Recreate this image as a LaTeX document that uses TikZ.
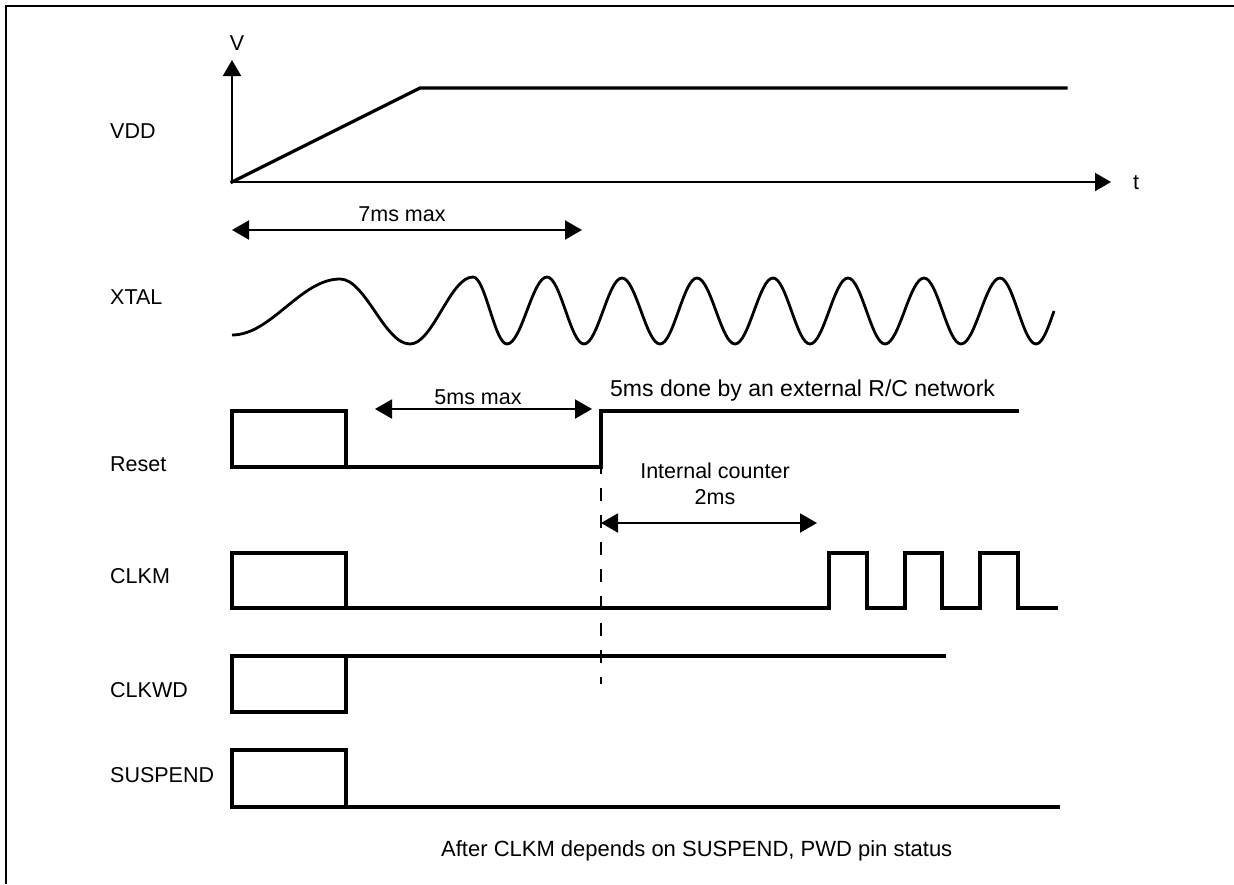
\documentclass[tikz,border=0pt]{standalone}
\usepackage{fontspec}
\setmainfont{Liberation Sans}
\usetikzlibrary{arrows.meta}
\begin{document}
\begin{tikzpicture}[x=1pt,y=-1pt,
  sig/.style={line width=3.2pt, line join=miter, line cap=rect},
  axis/.style={line width=2pt, -{Triangle[length=16pt,width=18pt]}},
  dim/.style={line width=2pt, {Triangle[length=17pt,width=19pt]}-{Triangle[length=17pt,width=19pt]}},
  lbl/.style={font=\fontsize{21.5}{25}\selectfont, inner sep=0pt},
  signame/.style={lbl, anchor=west},
]
\useasboundingbox (0,0) rectangle (1234,884);
\draw[line width=2.5pt] (6,884) -- (6,6) -- (1234,6);

% signal names
\node[signame] (nVDD) at (110,131) {VDD};
\node[signame] (nXTAL) at (110,297) {XTAL};
\node[signame] (nReset) at (110,464) {Reset};
\node[signame] (nCLKM) at (110,576) {CLKM};
\node[signame] (nCLKWD) at (110,690) {CLKWD};
\node[signame] (nSUSP) at (110,775) {SUSPEND};

% axes
\coordinate (O) at (232,182);
\coordinate (Vtip) at (232,60);
\coordinate (Ttip) at (1111,182);
\draw[axis] (O) -- (Vtip);
\draw[axis] (O) -- (Ttip);
\node[lbl] (V) at (237,43) {V};
\node[lbl] (t) at (1136,183) {t};

% VDD
\draw[sig] (O) -- (420,88) -- (1066,88);

% 7ms max
\coordinate (a7l) at (232,230);
\coordinate (a7r) at (582,230);
\draw[dim] (a7l) -- (a7r);
\node[lbl] (l7) at (402,214) {7ms max};

% XTAL
\draw[line width=2.8pt, line join=round]
 (232,335) cos (286,307) sin (340,279)
 cos (375,311.5) sin (410,344)
 cos (441.5,310.5) sin (473,277)
 cos (490,310.5) sin (507,344)
 cos (527,310.5) sin (547,277)
 cos (565.5,310.5) sin (584,344)
 cos (603,311) sin (622,278)
 cos (641,311) sin (660,344)
 cos (678.5,311) sin (697,278)
 cos (716,311) sin (735,344)
 cos (754,311) sin (773,278)
 cos (791.5,311) sin (810,344)
 cos (829,311) sin (848,278)
 cos (866.5,311) sin (885,344)
 cos (904.5,311) sin (924,278)
 cos (942.5,311) sin (961,344)
 cos (980.5,311) sin (1000,278)
 cos (1018,311) sin (1036,344)
 cos (1054,311);

% Reset
\draw[sig] (232,411) rectangle (346,467);
\draw[sig] (346,467) -- (601,467) -- (601,411) -- (1017,411);
\coordinate (a5l) at (375,409);
\coordinate (a5r) at (592,409);
\draw[dim] (a5l) -- (a5r);
\node[lbl] (l5) at (478,397) {5ms max};
\node[lbl, anchor=west, font=\fontsize{23}{27}\selectfont] (lrc) at (610,391) {5ms done by an external R/C network};

% dashed marker
\coordinate (dtop) at (601,467);
\coordinate (dbot) at (601,684);
\draw[line width=2pt, dash pattern=on 13pt off 14pt, dash phase=6pt] (dtop) -- (dbot);

% internal counter
\coordinate (a2l) at (601,523);
\coordinate (a2r) at (817,523);
\draw[dim] (a2l) -- (a2r);
\node[lbl] (l2a) at (715,471) {Internal counter};
\node[lbl] (l2b) at (715,497) {2ms};

% CLKM
\draw[sig] (232,553) rectangle (346,608);
\draw[sig] (346,608) -- (829,608) -- (829,553) -- (867,553) -- (867,608)
  -- (905,608) -- (905,553) -- (942,553) -- (942,608)
  -- (980,608) -- (980,553) -- (1018,553) -- (1018,608) -- (1056,608);

% CLKWD
\draw[sig] (232,656) rectangle (346,712);
\draw[sig] (346,656) -- (944,656);

% SUSPEND
\draw[sig] (232,750) rectangle (346,807);
\draw[sig] (346,807) -- (1058,807);

% caption
\node[lbl, anchor=west, font=\fontsize{22}{26}\selectfont] (cap) at (441,851) {After CLKM depends on SUSPEND, PWD pin status};
\end{tikzpicture}
\end{document}
